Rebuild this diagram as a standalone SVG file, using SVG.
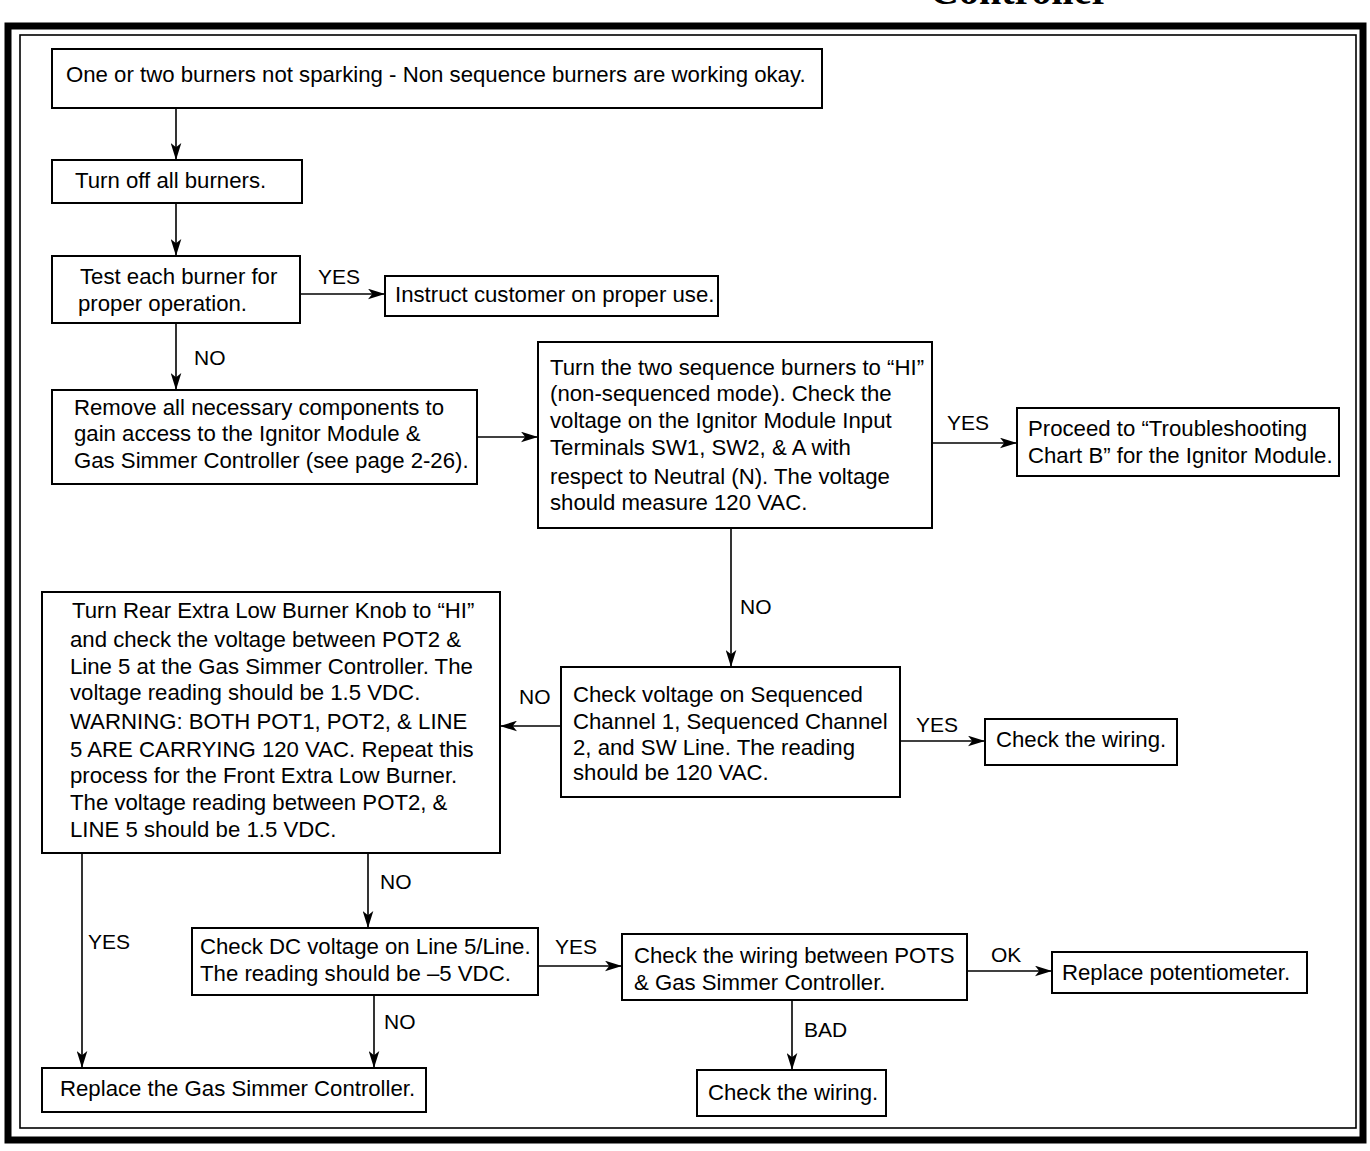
<svg xmlns="http://www.w3.org/2000/svg" width="1370" height="1151" viewBox="0 0 1370 1151">
<style>
.box{fill:#fff;stroke:#000;stroke-width:2}
text{font-family:"Liberation Sans",Arial,sans-serif;font-size:22.2px;fill:#000}
.lbl{font-size:21px}
.conn line,.conn polyline{stroke:#000;stroke-width:1.6;fill:none}
</style>
<defs>
<marker id="ah" viewBox="0 0 16 10" refX="16" refY="5" markerWidth="17" markerHeight="11" markerUnits="userSpaceOnUse" orient="auto">
<path d="M0,0 L16,5 L0,10 L4,5 Z" fill="#000"/>
</marker>
</defs>
<rect width="1370" height="1151" fill="#fff"/>
<text x="930" y="4" style="font-family:'Liberation Serif',serif;font-weight:bold;font-size:40px">Controller</text>
<rect x="8" y="26" width="1355" height="1114" fill="none" stroke="#000" stroke-width="7"/>
<rect x="20" y="35" width="1336" height="1093" fill="none" stroke="#000" stroke-width="1.6"/>

<g class="conn">
<line x1="176" y1="108" x2="176" y2="160" marker-end="url(#ah)"/>
<line x1="176" y1="203" x2="176" y2="256" marker-end="url(#ah)"/>
<line x1="300" y1="294" x2="385" y2="294" marker-end="url(#ah)"/>
<line x1="176" y1="323" x2="176" y2="390" marker-end="url(#ah)"/>
<line x1="477" y1="437" x2="538" y2="437" marker-end="url(#ah)"/>
<line x1="932" y1="443" x2="1017" y2="443" marker-end="url(#ah)"/>
<line x1="731" y1="528" x2="731" y2="667" marker-end="url(#ah)"/>
<line x1="561" y1="726" x2="500" y2="726" marker-end="url(#ah)"/>
<line x1="900" y1="741" x2="985" y2="741" marker-end="url(#ah)"/>
<line x1="82" y1="853" x2="82" y2="1068" marker-end="url(#ah)"/>
<line x1="368" y1="853" x2="368" y2="928" marker-end="url(#ah)"/>
<line x1="538" y1="966" x2="622" y2="966" marker-end="url(#ah)"/>
<line x1="374" y1="995" x2="374" y2="1068" marker-end="url(#ah)"/>
<line x1="967" y1="971" x2="1052" y2="971" marker-end="url(#ah)"/>
<line x1="792" y1="1000" x2="792" y2="1070" marker-end="url(#ah)"/>
<text class="lbl" x="318" y="284">YES</text>
<text class="lbl" x="194" y="365">NO</text>
<text class="lbl" x="947" y="430">YES</text>
<text class="lbl" x="740" y="614">NO</text>
<text class="lbl" x="519" y="704">NO</text>
<text class="lbl" x="916" y="732">YES</text>
<text class="lbl" x="380" y="889">NO</text>
<text class="lbl" x="88" y="949">YES</text>
<text class="lbl" x="555" y="954">YES</text>
<text class="lbl" x="384" y="1029">NO</text>
<text class="lbl" x="991" y="962">OK</text>
<text class="lbl" x="804" y="1037">BAD</text>
</g>

<g id="n1"><rect class="box" x="52" y="49" width="770" height="59"/>
<text x="66" y="82">One or two burners not sparking - Non sequence burners are working okay.</text></g>
<g id="n2"><rect class="box" x="52" y="160" width="250" height="43"/>
<text x="75" y="188">Turn off all burners.</text></g>
<g id="n3"><rect class="box" x="52" y="256" width="248" height="67"/>
<text x="80" y="284">Test each burner for</text><text x="78" y="311">proper operation.</text></g>
<g id="n4"><rect class="box" x="385" y="276" width="333" height="40"/>
<text x="395" y="302">Instruct customer on proper use.</text></g>
<g id="n5"><rect class="box" x="52" y="390" width="425" height="94"/>
<text x="74" y="415">Remove all necessary components to</text><text x="74" y="441">gain access to the Ignitor Module &amp;</text><text x="74" y="468">Gas Simmer Controller (see page 2-26).</text></g>
<g id="n6"><rect class="box" x="538" y="342" width="394" height="186"/>
<text x="550" y="375">Turn the two sequence burners to “HI”</text><text x="550" y="401">(non-sequenced mode). Check the</text><text x="550" y="428">voltage on the Ignitor Module Input</text><text x="550" y="455">Terminals SW1, SW2, &amp; A with</text><text x="550" y="484">respect to Neutral (N). The voltage</text><text x="550" y="510">should measure 120 VAC.</text></g>
<g id="n7"><rect class="box" x="1017" y="408" width="322" height="68"/>
<text x="1028" y="436">Proceed to “Troubleshooting</text><text x="1028" y="463">Chart B” for the Ignitor Module.</text></g>
<g id="n8"><rect class="box" x="561" y="667" width="339" height="130"/>
<text x="573" y="702">Check voltage on Sequenced</text><text x="573" y="729">Channel 1, Sequenced Channel</text><text x="573" y="755">2, and SW Line. The reading</text><text x="573" y="780">should be 120 VAC.</text></g>
<g id="n9"><rect class="box" x="985" y="719" width="192" height="46"/>
<text x="996" y="747">Check the wiring.</text></g>
<g id="n10"><rect class="box" x="42" y="592" width="458" height="261"/>
<text x="72" y="618">Turn Rear Extra Low Burner Knob to “HI”</text><text x="70" y="647">and check the voltage between POT2 &amp;</text><text x="70" y="674">Line 5 at the Gas Simmer Controller. The</text><text x="70" y="700">voltage reading should be 1.5 VDC.</text><text x="70" y="729">WARNING: BOTH POT1, POT2, &amp; LINE</text><text x="70" y="757">5 ARE CARRYING 120 VAC. Repeat this</text><text x="70" y="783">process for the Front Extra Low Burner.</text><text x="70" y="810">The voltage reading between POT2, &amp;</text><text x="70" y="837">LINE 5 should be 1.5 VDC.</text></g>
<g id="n11"><rect class="box" x="192" y="928" width="346" height="67"/>
<text x="200" y="954">Check DC voltage on Line 5/Line.</text><text x="200" y="981">The reading should be –5 VDC.</text></g>
<g id="n12"><rect class="box" x="42" y="1068" width="384" height="44"/>
<text x="60" y="1096">Replace the Gas Simmer Controller.</text></g>
<g id="n13"><rect class="box" x="622" y="934" width="345" height="66"/>
<text x="634" y="963">Check the wiring between POTS</text><text x="634" y="990">&amp; Gas Simmer Controller.</text></g>
<g id="n14"><rect class="box" x="1052" y="952" width="255" height="41"/>
<text x="1062" y="980">Replace potentiometer.</text></g>
<g id="n15"><rect class="box" x="697" y="1070" width="189" height="46"/>
<text x="708" y="1100">Check the wiring.</text></g>
</svg>
